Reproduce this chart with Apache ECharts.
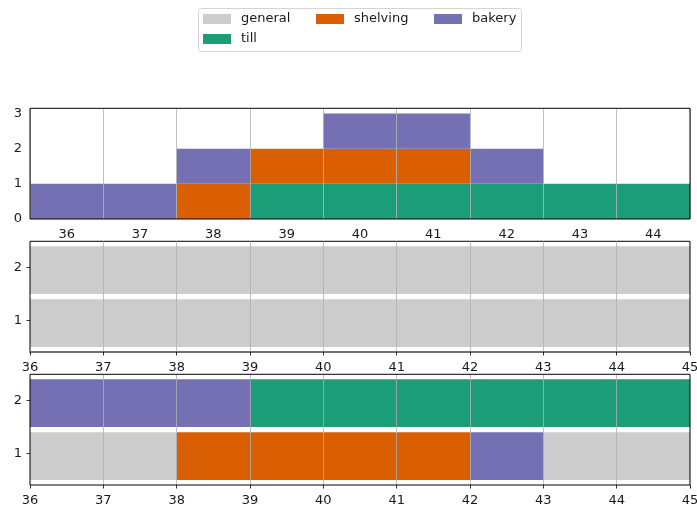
<!DOCTYPE html>
<html>
<head>
<meta charset="utf-8">
<script src="https://cdn.jsdelivr.net/npm/echarts@6/dist/echarts.min.js"></script>
<style>
  html, body { margin: 0; padding: 0; background: #fff; }
  #chart { width: 697px; height: 509px; }
</style>
</head>
<body>
<div id="chart"></div>
<script>
// Staff counts per hour (top panel), stacked by activity
const hours = ['36', '37', '38', '39', '40', '41', '42', '43', '44'];
const tillCounts     = [0, 0, 0, 1, 1, 1, 1, 1, 1];
const shelvingCounts = [0, 0, 1, 1, 1, 1, 0, 0, 0];
const bakeryCounts   = [1, 1, 1, 0, 1, 1, 1, 0, 0];

// Timeline rows and hour range for the two lower panels
const rowTicks = [1, 2];
const countTicks = [0, 1, 2, 3];
const hourStart = 36;
const hourEnd = 45;

// Planned schedule: [start, end, row, activity]
const plannedSpans = [
  [36, 45, 1, 'general'],
  [36, 45, 2, 'general']
];
// Assigned schedule: [start, end, row, activity]
const assignedSpans = [
  [36, 38, 1, 'general'],
  [38, 42, 1, 'shelving'],
  [42, 43, 1, 'bakery'],
  [43, 45, 1, 'general'],
  [36, 39, 2, 'bakery'],
  [39, 45, 2, 'till']
];

const palette = {
  general: '#cccccc',
  till: '#1b9e77',
  shelving: '#d95f02',
  bakery: '#7570b3'
};

const FONT = 'DejaVu Sans';
const TEXT = '#1a1a1a';
const GRID_LINE = { color: '#b0b0b0', width: 0.8 };
const TICK = { length: 3.5, lineStyle: { color: '#000', width: 0.8 } };
const X_LABEL = { color: TEXT, fontFamily: FONT, fontSize: 13, margin: 9 };

// Each bar spans from row-0.5 to row+0.4
function renderSpan(params, api) {
  const row = api.value(2);
  const p0 = api.coord([api.value(0), row + 0.4]);
  const p1 = api.coord([api.value(1), row - 0.5]);
  return {
    type: 'rect',
    shape: { x: p0[0], y: p0[1], width: p1[0] - p0[0], height: p1[1] - p0[1] },
    style: { fill: api.visual('color') }
  };
}

function spanSeries(spans, gridIdx, axisIdx) {
  const names = [];
  spans.forEach(s => { if (!names.includes(s[3])) names.push(s[3]); });
  return names.map(name => ({
    name: name,
    type: 'custom',
    xAxisIndex: axisIdx,
    yAxisIndex: gridIdx,
    renderItem: renderSpan,
    itemStyle: { color: palette[name] },
    encode: { x: [0, 1], y: 2 },
    data: spans.filter(s => s[3] === name).map(s => [s[0], s[1], s[2]])
  }));
}

function timeAxis(gridIdx, extra) {
  return Object.assign({
    gridIndex: gridIdx,
    type: 'value',
    min: hourStart,
    max: hourEnd,
    interval: 1,
    z: 3,
    axisLine: { show: false },
    axisTick: TICK,
    axisLabel: X_LABEL,
    splitLine: { show: true, showMinLine: false, showMaxLine: false, lineStyle: GRID_LINE }
  }, extra || {});
}

function rowAxis(gridIdx) {
  return {
    gridIndex: gridIdx,
    type: 'value',
    min: 0.405,
    max: 2.495,
    axisLine: { show: false },
    axisTick: Object.assign({ customValues: rowTicks }, TICK),
    axisLabel: { customValues: rowTicks, color: TEXT, fontFamily: FONT, fontSize: 13, margin: 8 },
    splitLine: { show: false }
  };
}

function legendItem(name, left, top) {
  return {
    data: [name],
    left: left,
    top: top,
    padding: 0,
    icon: 'rect',
    itemWidth: 28,
    itemHeight: 10,
    selectedMode: false,
    textStyle: { color: TEXT, fontFamily: FONT, fontSize: 13, lineHeight: 14, padding: [0, 0, 0, 5] }
  };
}

const gridBase = {
  left: 30, width: 660, height: 110.7,
  outerBoundsMode: 'none',
  containLabel: false,
  show: true, borderColor: '#000', borderWidth: 1,
  backgroundColor: 'transparent', z: 5
};

const option = {
  animation: false,
  textStyle: { fontFamily: FONT },
  graphic: [{
    type: 'rect',
    z: -1,
    shape: { x: 198.5, y: 8.5, width: 323, height: 43, r: 3 },
    style: { fill: '#fff', stroke: '#d4d4d4', lineWidth: 1 }
  }],
  legend: [
    legendItem('general', 203, 12),
    legendItem('till', 203, 32),
    legendItem('shelving', 316, 12),
    legendItem('bakery', 434, 12)
  ],
  grid: [
    Object.assign({ top: 108.3 }, gridBase),
    Object.assign({ top: 241.3 }, gridBase),
    Object.assign({ top: 374.3 }, gridBase)
  ],
  xAxis: [
    {
      gridIndex: 0, type: 'category', data: hours, position: 'bottom', z: 3,
      axisLine: { show: false },
      axisTick: Object.assign({ alignWithLabel: true }, TICK),
      axisLabel: X_LABEL,
      splitLine: { show: false }
    },
    {
      gridIndex: 0, type: 'category', data: hours, position: 'bottom', z: 3,
      axisLine: { show: false },
      axisTick: { length: 2, lineStyle: { color: '#9a9a9a', width: 0.8 } },
      axisLabel: { show: false },
      splitLine: { show: true, lineStyle: GRID_LINE }
    },
    timeAxis(1, {
      z: 6,
      axisLine: { show: true, lineStyle: { color: '#6e6e6e', width: 2 } }
    }),
    timeAxis(2)
  ],
  yAxis: [
    {
      gridIndex: 0, type: 'value', min: 0, max: 3.15,
      axisLine: { show: false },
      axisTick: Object.assign({ customValues: countTicks }, TICK),
      axisLabel: { customValues: countTicks, color: TEXT, fontFamily: FONT, fontSize: 13, margin: 8 },
      splitLine: { show: false }
    },
    rowAxis(1),
    rowAxis(2)
  ],
  series: [
    { name: 'till', type: 'bar', stack: 'count', xAxisIndex: 0, yAxisIndex: 0,
      barWidth: '100%', barCategoryGap: '0%', itemStyle: { color: palette.till }, data: tillCounts },
    { name: 'shelving', type: 'bar', stack: 'count', xAxisIndex: 0, yAxisIndex: 0,
      barWidth: '100%', barCategoryGap: '0%', itemStyle: { color: palette.shelving }, data: shelvingCounts },
    { name: 'bakery', type: 'bar', stack: 'count', xAxisIndex: 0, yAxisIndex: 0,
      barWidth: '100%', barCategoryGap: '0%', itemStyle: { color: palette.bakery }, data: bakeryCounts }
  ]
    .concat(spanSeries(plannedSpans, 1, 2))
    .concat(spanSeries(assignedSpans, 2, 3))
};

const chart = echarts.init(document.getElementById('chart'), null, { renderer: 'canvas' });
chart.setOption(option);
</script>
</body>
</html>
